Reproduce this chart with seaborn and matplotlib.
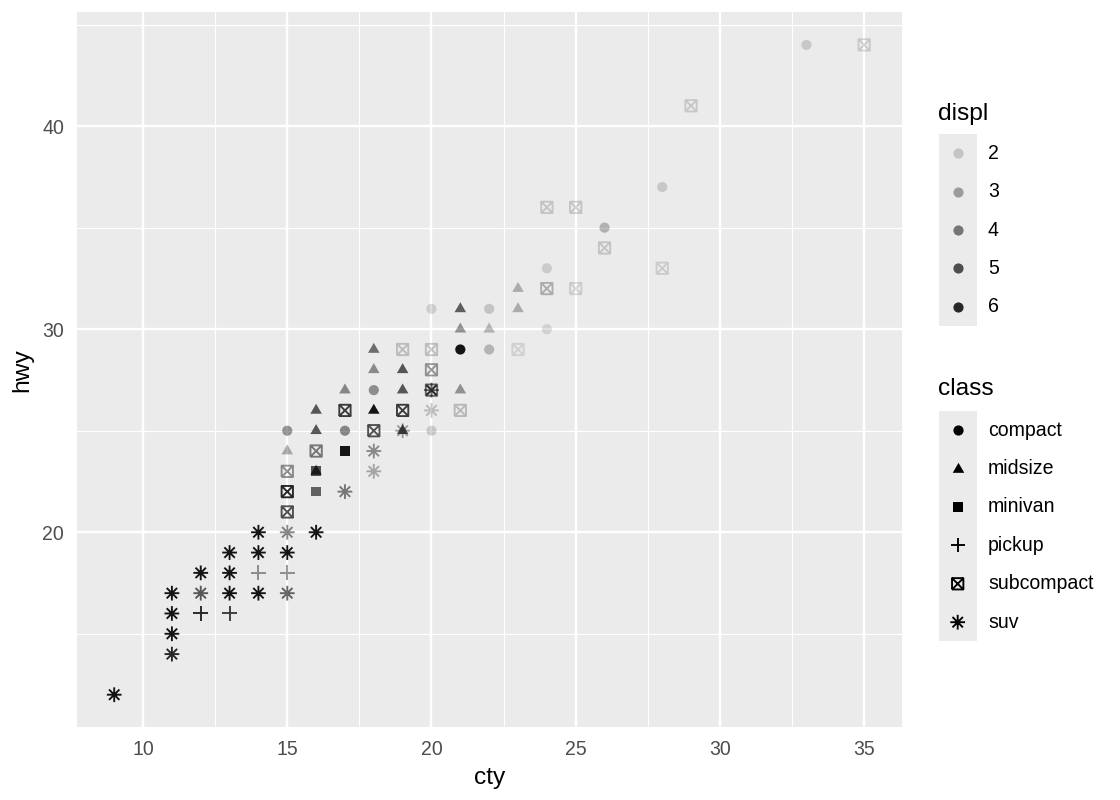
import matplotlib
matplotlib.use("Agg")
import matplotlib.pyplot as plt
import seaborn as sns
import pandas as pd
from matplotlib.path import Path
from matplotlib.colors import LinearSegmentedColormap
from matplotlib.patches import Rectangle

# --- values (one entry per visible marker) ---
compact_cty = [15, 17, 18, 20, 20, 21, 22, 22, 24, 24, 26, 28, 33]
compact_hwy = [25, 25, 27, 31, 25, 29, 31, 29, 33, 30, 35, 37, 44]
compact_displ = [3.3, 3.6, 3.4, 1.8, 2.0, 6.5, 2.0, 2.4, 1.8, 1.7, 2.5, 1.9, 1.9]

midsize_cty = [15, 16, 16, 16, 17, 18, 18, 18, 19, 19, 19, 21, 21, 21, 22, 23, 23]
midsize_hwy = [24, 26, 25, 23, 27, 29, 28, 26, 28, 27, 25, 31, 30, 27, 30, 32, 31]
midsize_displ = [2.8, 4.8, 4.8, 5.0, 3.6, 4.2, 3.5, 6.5, 4.8, 4.8, 5.0, 4.6, 3.3, 3.3, 2.5, 2.6, 2.6]

minivan_cty = [16, 16, 17]
minivan_hwy = [23, 22, 24]
minivan_displ = [5.0, 4.5, 6.5]

pickup_cty = [12, 13, 14, 15]
pickup_hwy = [16, 16, 18, 18]
pickup_displ = [6.0, 5.5, 3.5, 3.5]

subcompact_cty = [15, 15, 15, 16, 17, 18, 19, 19, 20, 20, 20, 21, 23, 24, 24, 25, 25, 26, 28, 29, 35]
subcompact_hwy = [23, 22, 21, 24, 26, 25, 29, 26, 29, 28, 27, 26, 29, 36, 32, 36, 32, 34, 33, 41, 44]
subcompact_displ = [3.5, 6.0, 5.0, 4.0, 5.5, 5.0, 2.2, 5.5, 2.2, 3.3, 4.5, 2.3, 1.7, 2.0, 2.6, 2.0, 1.8, 2.0, 1.8, 1.9, 1.9]

suv_cty = [9, 11, 11, 11, 11, 12, 12, 13, 13, 13, 14, 14, 14, 15, 15, 15, 16, 17, 18, 18, 19, 20, 20]
suv_hwy = [12, 17, 16, 15, 14, 18, 17, 19, 18, 17, 20, 19, 17, 20, 19, 17, 20, 22, 24, 23, 25, 27, 26]
suv_displ = [6.5, 6.5, 6.5, 6.5, 6.0, 6.5, 4.8, 6.5, 6.5, 6.5, 6.5, 6.5, 6.5, 3.8, 6.5, 4.5, 6.5, 4.0, 3.5, 2.8, 3.0, 4.5, 2.3]

class_order = ["compact", "midsize", "minivan", "pickup", "subcompact", "suv"]
displ_breaks = [2, 3, 4, 5, 6]

frames = []
for name, c, h, d in [
    ("compact", compact_cty, compact_hwy, compact_displ),
    ("midsize", midsize_cty, midsize_hwy, midsize_displ),
    ("minivan", minivan_cty, minivan_hwy, minivan_displ),
    ("pickup", pickup_cty, pickup_hwy, pickup_displ),
    ("subcompact", subcompact_cty, subcompact_hwy, subcompact_displ),
    ("suv", suv_cty, suv_hwy, suv_displ),
]:
    frames.append(pd.DataFrame({"cty": c, "hwy": h, "displ": d, "class": name}))
df = pd.concat(frames, ignore_index=True)

# --- marker shapes (ggplot shapes 19, 17, 15, 3, 7, 8) ---
tri = Path([(-1, -0.577), (1, -0.577), (0, 1.155), (-1, -0.577)],
           [Path.MOVETO, Path.LINETO, Path.LINETO, Path.CLOSEPOLY])
sq_cross = Path([(-1, -1), (1, -1), (1, 1), (-1, 1), (-1, -1), (-1, -1), (1, 1), (-1, 1), (1, -1)],
                [Path.MOVETO, Path.LINETO, Path.LINETO, Path.LINETO, Path.LINETO,
                 Path.MOVETO, Path.LINETO, Path.MOVETO, Path.LINETO])
d = 0.707
asterisk = Path([(-1, 0), (1, 0), (0, -1), (0, 1), (-d, -d), (d, d), (-d, d), (d, -d)],
                [Path.MOVETO, Path.LINETO] * 4)

MARKERS = {"compact": "o", "midsize": tri, "minivan": "s", "pickup": "+",
           "subcompact": sq_cross, "suv": asterisk}
SIZES = {"compact": 21, "midsize": 36, "minivan": 19, "pickup": 44,
         "subcompact": 26, "suv": 44}
LINE_ART = {"pickup", "subcompact", "suv"}

sns.set_style("darkgrid", {"axes.facecolor": "#EBEBEB", "grid.color": "white"})
plt.rcParams["font.family"] = ["Liberation Sans", "DejaVu Sans"]
plt.rcParams["text.color"] = "black"

# black with alpha 0.1 -> 1 over the displ range, like scale_alpha
alpha_cmap = LinearSegmentedColormap.from_list("alpha", [(0, 0, 0, 0.1), (0, 0, 0, 1.0)])
displ_norm = (1.6, 7.0)

fig = plt.figure(figsize=(7, 5), dpi=160)
ax = fig.add_axes([0.0685, 0.091, 0.7365, 0.8935])

for name in class_order:
    sub = df[df["class"] == name]
    sns.scatterplot(data=sub, x="cty", y="hwy", hue="displ", palette=alpha_cmap,
                    hue_norm=displ_norm, marker=MARKERS[name], s=SIZES[name],
                    linewidth=0, legend=False, ax=ax)
    coll = ax.collections[-1]
    if name in LINE_ART:
        fc = coll.get_facecolors()
        coll.set_edgecolors(fc)
        coll.set_facecolors("none")
        coll.set_linewidths(0.85)

ax.set_xlim(7.7, 36.3)
ax.set_ylim(10.4, 45.6)
ax.set_xticks([10, 15, 20, 25, 30, 35])
ax.set_xticks([12.5, 17.5, 22.5, 27.5, 32.5], minor=True)
ax.set_yticks([20, 30, 40])
ax.set_yticks([15, 25, 35, 45], minor=True)
ax.grid(which="major", color="white", linewidth=1.07)
ax.grid(which="minor", color="white", linewidth=0.53)
ax.tick_params(which="major", length=2.75, width=1.07, color="#333333",
               labelsize=8.8, labelcolor="#4D4D4D", pad=3)
ax.tick_params(which="minor", length=0)
for s in ax.spines.values():
    s.set_visible(False)
ax.set_xlabel("cty", fontsize=11, color="black", labelpad=3.5)
ax.set_ylabel("hwy", fontsize=11, color="black", labelpad=4)

# --- legends, drawn in pixel coordinates ---
lax = fig.add_axes([0, 0, 1, 1])
lax.set_xlim(0, 1120)
lax.set_ylim(800, 0)
lax.axis("off")

key_x, key_w, key_h = 938.5, 38.4, 38.4
lax.text(938, 114, "displ", fontsize=11, va="center", ha="left", color="black")
lax.add_patch(Rectangle((key_x, 134), key_w, key_h * len(displ_breaks), facecolor="#EBEBEB", edgecolor="none"))
for i, v in enumerate(displ_breaks):
    cy = 134 + key_h * (i + 0.5)
    lax.scatter([key_x + key_w / 2], [cy], marker="o", s=SIZES["compact"], linewidths=0,
                color=[alpha_cmap((v - displ_norm[0]) / (displ_norm[1] - displ_norm[0]))])
    lax.text(988, cy, str(v), fontsize=8.8, va="center", ha="left", color="black")

lax.text(938, 389, "class", fontsize=11, va="center", ha="left", color="black")
lax.add_patch(Rectangle((key_x, 411), key_w, key_h * len(class_order), facecolor="#EBEBEB", edgecolor="none"))
for i, name in enumerate(class_order):
    cy = 411 + key_h * (i + 0.5)
    if name == "pickup":
        lax.scatter([key_x + key_w / 2], [cy], marker="+", s=SIZES[name],
                    color="black", linewidths=0.85)
    elif name in LINE_ART:
        lax.scatter([key_x + key_w / 2], [cy], marker=MARKERS[name], s=SIZES[name],
                    facecolors="none", edgecolors="black", linewidths=0.85)
    else:
        lax.scatter([key_x + key_w / 2], [cy], marker=MARKERS[name], s=SIZES[name],
                    color="black", linewidths=0)
    lax.text(988, cy, name, fontsize=8.8, va="center", ha="left", color="black")

fig.savefig("out.png", dpi=160, facecolor="white")
